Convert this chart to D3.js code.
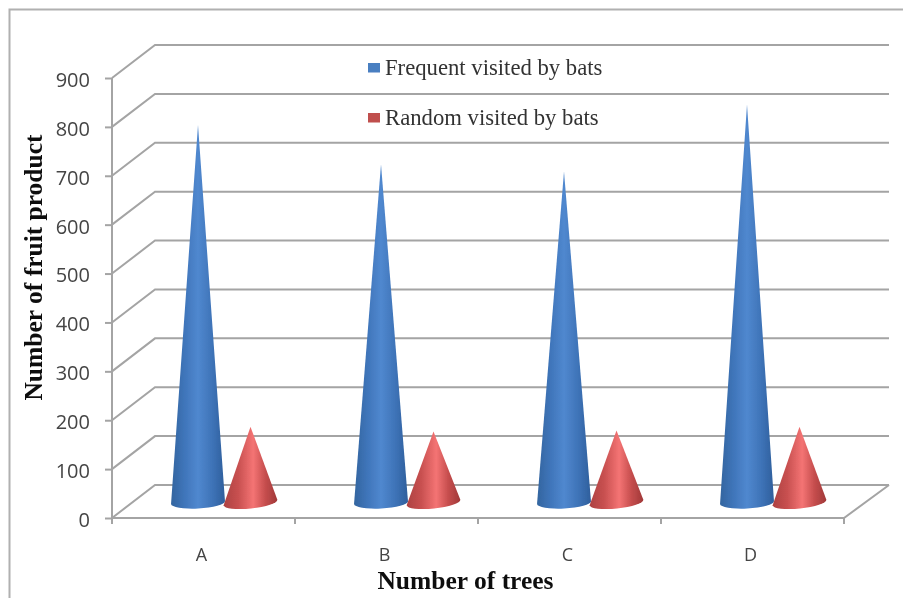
<!DOCTYPE html>
<html><head><meta charset="utf-8">
<script src="https://cdn.jsdelivr.net/npm/d3@7"></script>
<style>html,body{margin:0;background:#fff}svg{display:block}</style></head>
<body><svg id="c" width="903" height="598"></svg>
<script>
const categories = ["A","B","C","D"];
const frequent = [770, 690, 675, 812];
const random = [153, 143, 145, 153];
const yTicks = [0,100,200,300,400,500,600,700,800,900];
const seriesNames = ["Frequent visited by bats","Random visited by bats"];

const W=903,H=598, x0=112,x1=844, yBase=518,yTop=78, dx=43,dy=33;
const svg=d3.select("#c");
const defs=svg.append("defs");
defs.append("filter").attr("id","soft").append("feGaussianBlur").attr("stdDeviation",0.6);
function grad(id,stops){
  const g=defs.append("linearGradient").attr("id",id);
  stops.forEach(s=>g.append("stop").attr("offset",s[0]).attr("stop-color",s[1]));
}
grad("gb",[[0,"#33659f"],[.25,"#3f75ba"],[.5,"#5088cf"],[.78,"#3d72b6"],[1,"#2f5f9c"]]);
grad("gr",[[0,"#ad4141"],[.28,"#c95151"],[.55,"#f47474"],[.78,"#c54d4d"],[1,"#a03838"]]);

const root=svg.append("g").attr("filter","url(#soft)");
const y=d3.scaleLinear().domain([0,900]).range([yBase,yTop]);
const x=d3.scaleBand().domain(categories).range([x0,x1]);
const grey="#a4a4a4";

// frame
root.append("path").attr("d",`M9.5,${H}V9.5H${W}`).attr("fill","none").attr("stroke","#b0b0b0").attr("stroke-width",2);

// 3D gridlines
const grid=root.append("g").attr("fill","none").attr("stroke",grey).attr("stroke-width",2);
grid.selectAll("path").data(yTicks).join("path")
  .attr("d",d=>`M${x0},${y(d)}L${x0+dx},${y(d)-dy}H889`);
grid.append("path").attr("d",`M889,${y(0)-dy}L${x1},${y(0)}H${x0}V${yTop}`);

// axes
const ya=root.append("g").attr("transform",`translate(${x0},0)`)
  .call(d3.axisLeft(y).tickValues(yTicks).tickSize(7).tickPadding(15));
ya.select(".domain").remove();
ya.selectAll("line").attr("stroke",grey).attr("stroke-width",2);
ya.selectAll("text").attr("font-family","'Open Sans'").attr("font-size",20).attr("fill","#444").attr("dy","0.42em");

const xa=root.append("g").attr("transform",`translate(0,${yBase})`)
  .call(d3.axisBottom(x).tickSize(0).tickPadding(30));
xa.select(".domain").remove();
xa.selectAll("text").attr("font-family","'Open Sans'").attr("font-size",18).attr("fill","#444").attr("dx",-2);
const edges=categories.map(c=>x(c)).concat([x1]);
root.append("g").selectAll("line").data(edges).join("line")
  .attr("x1",d=>d).attr("x2",d=>d).attr("y1",yBase).attr("y2",yBase+6)
  .attr("stroke",grey).attr("stroke-width",2);

// cones
const groupOffset=[-27,25.5], rx=27, ry=6, tilt=[-3,-6], apexShift=[0,0];
const yMid=v=>y(v)-dy/2;
function cone(sel,vals,si,fill){
  sel.append("g").selectAll("path").data(categories).join("path")
    .attr("d",(c,i)=>{
      const cx=x(c)+x.bandwidth()/2+dx/2+groupOffset[si], by=yMid(0)+1;
      const a=tilt[si]*Math.PI/180, ex=rx*Math.cos(a), ey=-rx*Math.sin(a);
      const L=[cx-ex,by+ey], R=[cx+ex,by-ey];
      return `M${L}L${cx+apexShift[si]},${yMid(vals[i])}L${R}A${rx},${ry},${tilt[si]},0,1,${L}Z`;
    }).attr("fill",fill);
}
cone(root,frequent,0,"url(#gb)");
cone(root,random,1,"url(#gr)");

// legend
const lg=root.append("g");
const lCols=["#4a7fc1","#c0504d"];
seriesNames.forEach((n,i)=>{
  const ly=[75,125][i];
  lg.append("rect").attr("x",368).attr("y",ly-12).attr("width",12).attr("height",9.5).attr("fill",lCols[i]);
  lg.append("text").attr("x",385).attr("y",ly).text(n)
    .attr("font-family","'Liberation Serif'").attr("font-size",22.7).attr("fill","#333");
});

// titles
root.append("text").attr("x",465.5).attr("y",589).attr("text-anchor","middle").text("Number of trees")
  .attr("font-family","'Liberation Serif'").attr("font-weight","bold").attr("font-size",25.5).attr("fill","#111");
root.append("text").attr("transform","translate(42,267.5) rotate(-90)").attr("text-anchor","middle").text("Number of fruit product")
  .attr("font-family","'Liberation Serif'").attr("font-weight","bold").attr("font-size",25.5).attr("fill","#111");
</script></body></html>
